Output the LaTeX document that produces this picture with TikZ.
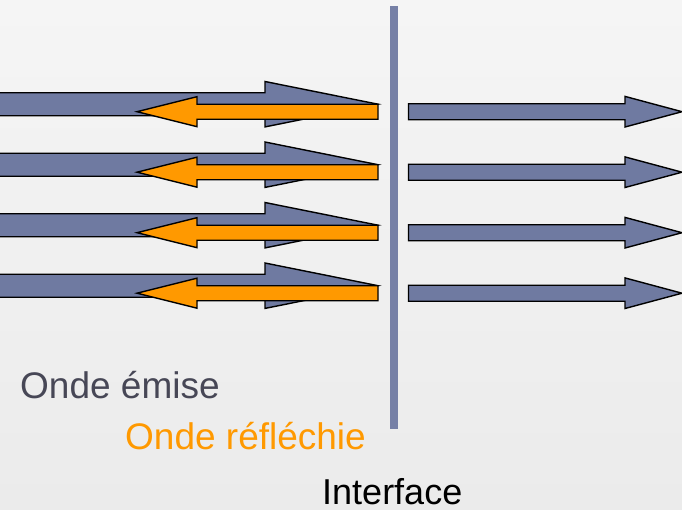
\documentclass[tikz,border=0pt]{standalone}
\usepackage{fontspec}
\setmainfont{Liberation Sans}
\definecolor{bgtop}{HTML}{F5F5F5}
\definecolor{bgbot}{HTML}{EBEBEB}
\definecolor{wave}{HTML}{6F7AA1}
\definecolor{bar}{HTML}{7680A6}
\definecolor{refl}{HTML}{FF9900}
\definecolor{txtgray}{HTML}{474756}
\tikzset{
  emitted/.style={fill=wave, draw=black, line width=1.4pt, line join=miter},
  reflected/.style={fill=refl, draw=black, line width=1.4pt, line join=miter},
  label/.style={inner sep=0pt, anchor=base west, font=\fontsize{37}{44}\selectfont}
}
\begin{document}
\begin{tikzpicture}[x=1pt, y=-1pt]
\useasboundingbox (0,0) rectangle (682,509);
\clip (0,0) rectangle (682,509);
\shade[top color=bgtop, bottom color=bgbot] (0,0) rectangle (682,509);
% interface bar
\fill[bar] (390,6) rectangle (398,429);
\foreach \c in {104.2, 164.7, 225.2, 285.7} {
  \pgfmathsetmacro{\o}{\c+7.5}
  % emitted wave (left)
  \draw[emitted] (-5,\c-11.5) -- (265,\c-11.5) -- (265,\c-22.7) -- (378,\c)
     -- (265,\c+22.7) -- (265,\c+11.5) -- (-5,\c+11.5) -- cycle;
  % reflected wave
  \draw[reflected] (378,\o-7.5) -- (197,\o-7.5) -- (197,\o-15) -- (137,\o)
     -- (197,\o+15) -- (197,\o+7.5) -- (378,\o+7.5) -- cycle;
  % transmitted wave
  \draw[emitted] (408.5,\o-8) -- (625,\o-8) -- (625,\o-15.3) -- (682,\o)
     -- (625,\o+15.3) -- (625,\o+8) -- (408.5,\o+8) -- cycle;
}
\node[label, text=txtgray] (emise) at (20,398.5) {Onde émise};
\node[label, text=refl] (reflechie) at (125,449) {Onde réfléchie};
\node[label, font=\fontsize{36}{43}\selectfont] (interface) at (322,504) {Interface};
\end{tikzpicture}
\end{document}
